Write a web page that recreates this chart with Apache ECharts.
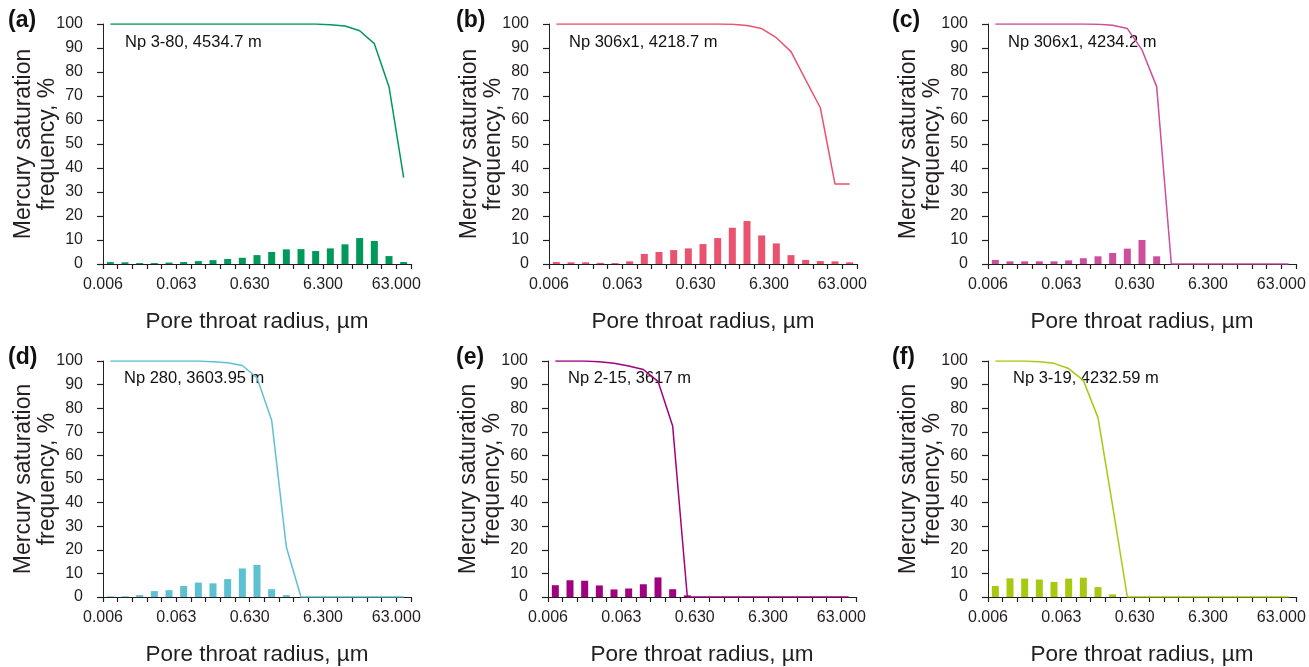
<!DOCTYPE html>
<html>
<head>
<meta charset="utf-8">
<script src="https://cdn.jsdelivr.net/npm/echarts@6/dist/echarts.min.js"></script>
<style>
html,body{margin:0;padding:0;background:#fff;}
#chart{width:1309px;height:667px;}
</style>
</head>
<body>
<div id="chart"></div>
<script>
// Pore-throat radius bins (µm), lower bound of each bin
const radiusBins = ['0.006','0.010','0.016','0.025','0.040','0.063','0.100','0.158','0.251','0.398',
  '0.630','1.000','1.580','2.510','3.980','6.300','10.000','15.800','25.100','39.800','63.000'];
const tickLabels = ['0.006','0.063','0.630','6.300','63.000'];

const panelLetters = ['(a)','(b)','(c)','(d)','(e)','(f)'];
const sampleNames = ['Np 3-80, 4534.7 m','Np 306x1, 4218.7 m','Np 306x1, 4234.2 m',
  'Np 280, 3603.95 m','Np 2-15, 3617 m','Np 3-19, 4232.59 m'];

// Frequency (bars), %
const freqA = [0.8,0.7,0.4,0.4,0.6,0.8,1.2,1.6,2.1,2.6,3.7,5.0,6.1,6.2,5.4,6.5,8.2,10.8,9.6,3.3,0.8];
const freqB = [0.8,0.7,0.7,0.5,0.4,1.1,4.2,5.0,5.8,6.5,8.3,10.8,15.1,17.9,11.9,8.6,3.7,1.7,1.2,1.1,0.7];
const freqC = [1.7,1.1,1.1,1.1,1.1,1.5,2.4,3.2,4.6,6.4,10.0,3.2,0,0,0,0,0,0,0,0,0];
const freqD = [0.3,0.3,0.8,2.5,2.9,4.7,6.1,5.8,7.6,12.1,13.6,3.3,0.8,0,0,0,0,0,0,0,0];
const freqE = [5.0,7.1,6.9,4.9,3.2,3.6,5.4,8.3,3.3,0.7,0,0,0,0,0,0,0,0,0,0,0];
const freqF = [4.7,7.9,7.8,7.4,6.4,7.8,8.2,4.2,1.1,0,0,0,0,0,0,0,0,0,0,0,0];

// Mercury saturation (lines), %
const satA = [100,100,100,100,100,100,100,100,100,100,100,100,100,100,100,99.7,99.2,97.2,91.8,73.9,36.0];
const satB = [100,100,100,100,100,100,100,100,100,100,100,100,99.9,99.4,98.1,94.3,88.5,76.7,65.1,33.3,33.3];
const satC = [100,100,100,100,100,100,100,99.9,99.5,98.1,89.2,73.9,0,0,0,0,0,0,0,0,0];
const satD = [100,100,100,100,100,100,100,99.7,99.3,98.1,92.9,74.9,21.2,0,0,0,0,0,0,0,0];
const satE = [100,100,100,99.7,99.0,97.9,96.4,91.4,72.5,0,0,0,0,0,0,0,0,0,0,0,0];
const satF = [100,100,100,99.7,99.0,96.8,91.8,76.0,38.5,0,0,0,0,0,0,0,0,0,0,0,0];

const freqs = [freqA, freqB, freqC, freqD, freqE, freqF];
const sats = [satA, satB, satC, satD, satE, satF];
const colors = ['#00985b','#e9536f','#cc4e9d','#5dc1d1','#a1007f','#a8c911'];

// layout
const FONT = 'Arial, "Liberation Sans", sans-serif';
const AX = '#231f20';
const layout = [
  {left:103, top:24, noteX:125, noteY:44, tagX:8, tagY:22},
  {left:549, top:24, noteX:569, noteY:44, tagX:456, tagY:22},
  {left:988, top:24, noteX:1008, noteY:44, tagX:892, tagY:22},
  {left:103, top:361, noteX:124, noteY:380, tagX:8, tagY:359},
  {left:548, top:361, noteX:568, noteY:380, tagX:456, tagY:359},
  {left:988, top:361, noteX:1013, noteY:380, tagX:892, tagY:359}
];
const GW = 308, GH = 240;

const grids = [], xAxes = [], yAxes = [], series = [], graphics = [];
layout.forEach((L, i) => {
  grids.push({left:L.left, top:L.top, width:GW, height:GH});
  xAxes.push({
    type:'category', gridIndex:i, position:'bottom', data:radiusBins, boundaryGap:true,
    axisLine:{show:true, lineStyle:{color:AX, width:1}},
    axisTick:{show:true, inside:false, interval:0, length:5, lineStyle:{color:AX, width:1.2}},
    axisLabel:{show:false},
    name:'Pore throat radius, µm', nameLocation:'middle', nameGap:46, nameMoveOverlap:false,
    nameTextStyle:{fontSize:22.5, color:AX, fontFamily:FONT}
  });
  xAxes.push({
    type:'value', gridIndex:i, position:'bottom', min:0, max:radiusBins.length, interval:5,
    axisLine:{show:false}, axisTick:{show:false}, splitLine:{show:false},
    axisLabel:{margin:13, fontSize:16, color:AX, fontFamily:FONT,
      formatter:(v)=> (v % 5 === 0 && tickLabels[v/5]) ? tickLabels[v/5] : ''}
  });
  yAxes.push({
    type:'value', gridIndex:i, position:'left', min:0, max:100, interval:10,
    axisLine:{show:true, lineStyle:{color:AX, width:1}},
    axisTick:{show:true, inside:false, length:6, lineStyle:{color:AX, width:1.2}},
    splitLine:{show:false},
    axisLabel:{fontSize:16, margin:20, color:AX, fontFamily:FONT},
    name:'Mercury saturation\nfrequency, %', nameLocation:'middle', nameGap:43, nameMoveOverlap:false,
    nameTextStyle:{fontSize:23, lineHeight:24, color:AX, fontFamily:FONT}
  });
  series.push({
    type:'bar', xAxisIndex:2*i, yAxisIndex:i, data:freqs[i], barWidth:7,
    itemStyle:{color:colors[i]}, z:2
  });
  series.push({
    type:'line', xAxisIndex:2*i, yAxisIndex:i, data:sats[i], symbol:'none',
    lineStyle:{width:1.5, color:colors[i]}, itemStyle:{color:colors[i]}, z:3
  });
  graphics.push({type:'text', left:L.noteX, top:L.noteY - 10,
    style:{text:sampleNames[i], font:'16.5px ' + FONT, fill:'#111'}});
  graphics.push({type:'text', left:L.tagX, top:L.tagY - 13,
    style:{text:panelLetters[i], font:'bold 23px ' + FONT, fill:'#111'}});
});

const chart = echarts.init(document.getElementById('chart'), null, {renderer:'canvas'});
chart.setOption({
  animation:false,
  backgroundColor:'#ffffff',
  textStyle:{fontFamily:FONT},
  grid:grids, xAxis:xAxes, yAxis:yAxes, series:series, graphic:graphics
});
</script>
</body>
</html>
